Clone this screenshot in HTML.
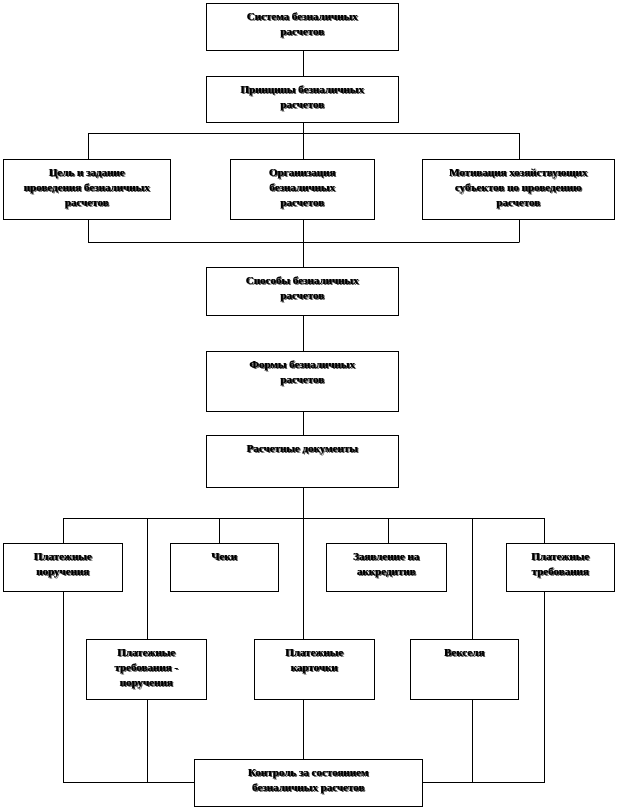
<!DOCTYPE html>
<html><head><meta charset="utf-8"><style>
body{margin:0;background:#fff;width:618px;height:810px;position:relative;overflow:hidden;font-family:"Liberation Serif",serif}
.b{position:absolute;border:1px solid #000;background:#fff;box-sizing:border-box;text-align:center;font-weight:bold;font-size:11px;line-height:15px;padding-top:6px;color:#000;text-shadow:1px 1px 0 #555,-0.5px 0 0 #000}
svg{position:absolute;left:0;top:0}
</style></head><body>
<svg width="618" height="810" stroke="#000" stroke-width="1" fill="none">
<path d="M303.5 50V76M303.5 122V159M88.5 133.5H519.5M88.5 133V159M519.5 133V159
M88.5 219V242.5H519.5M519.5 219V242M303.5 219V267M303.5 315V351M303.5 411V435M303.5 487V639
M63.5 518.5H544.5M63.5 518V543M147.5 518V639M219.5 518V543M388.5 518V543M472.5 518V639M544.5 518V543
M63.5 591V782.5H194M147.5 699V782M544.5 591V782.5H422M472.5 699V782M303.5 699V759"/>
</svg>
<div class="b" style="left:206px;top:3px;width:193px;height:48px">Система безналичных<br>расчетов</div>
<div class="b" style="left:206px;top:76px;width:193px;height:47px">Принципы безналичных<br>расчетов</div>
<div class="b" style="left:3px;top:159px;width:168px;height:61px">Цель и задание<br>проведения безналичных<br>расчетов</div>
<div class="b" style="left:230px;top:159px;width:145px;height:61px">Организация<br>безналичных<br>расчетов</div>
<div class="b" style="left:422px;top:159px;width:193px;height:61px">Мотивация хозяйствующих<br>субъектов по проведению<br>расчетов</div>
<div class="b" style="left:206px;top:267px;width:193px;height:49px">Способы безналичных<br>расчетов</div>
<div class="b" style="left:206px;top:351px;width:193px;height:61px">Формы безналичных<br>расчетов</div>
<div class="b" style="left:206px;top:435px;width:193px;height:53px">Расчетные документы</div>
<div class="b" style="left:3px;top:543px;width:120px;height:49px">Платежные<br>поручения</div>
<div class="b" style="left:170px;top:543px;width:109px;height:49px">Чеки</div>
<div class="b" style="left:326px;top:543px;width:121px;height:49px">Заявление на<br>аккредитив</div>
<div class="b" style="left:506px;top:543px;width:109px;height:49px">Платежные<br>требования</div>
<div class="b" style="left:86px;top:639px;width:121px;height:61px">Платежные<br>требования -<br>поручения</div>
<div class="b" style="left:254px;top:639px;width:121px;height:61px">Платежные<br>карточки</div>
<div class="b" style="left:410px;top:639px;width:109px;height:61px">Векселя</div>
<div class="b" style="left:194px;top:759px;width:229px;height:48px">Контроль за состоянием<br>безналичных расчетов</div>
</body></html>
